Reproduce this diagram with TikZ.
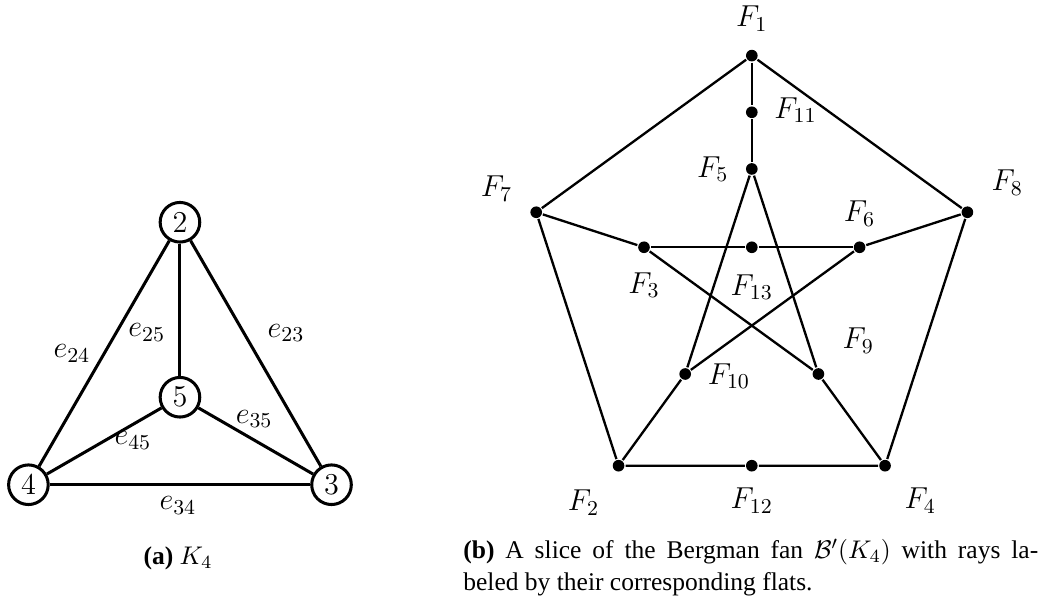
\documentclass[tikz,border=0pt]{standalone}
\usepackage{fix-cm}
\usepackage{amsmath,amssymb}
\usepackage{fontspec}
\setmainfont{Liberation Serif}
\usetikzlibrary{calc,positioning}

\tikzset{
    vertex/.style={circle, draw, line width=1.3pt, inner sep=0pt, minimum size=17pt, font=\fontsize{13}{15}\selectfont},
    ray/.style={circle, fill, inner sep=0pt, minimum size=5pt},
    flat/.style={font=\fontsize{13}{15}\selectfont},
    edgelab/.style={font=\fontsize{13}{15}\selectfont},
    capt/.style={font=\fontsize{10.95}{13.6}\selectfont}
}

\begin{document}
\begin{tikzpicture}
        \useasboundingbox (0,0) rectangle (15.75,9.07);

        % K_4 with the vertex 5 in the middle
        \begin{scope}[shift={(2.715,3.077)}, line width=1.3pt]
            \node[vertex] (v5) at (0,0) {$5$};
            \node[vertex] (v2) at (90:2.64) {$2$};
            \node[vertex] (v4) at (210:2.64) {$4$};
            \node[vertex] (v3) at (330:2.64) {$3$};

            \draw (v2) -- (v4);
            \draw (v2) -- (v3);
            \draw (v2) -- (v5);
            \draw (v4) -- (v3);
            \draw (v5) -- (v4);
            \draw (v5) -- (v3);

            \node[edgelab] (e24) at (-1.63,0.66) {$e_{24}$};
            \node[edgelab] (e25) at (-0.50,0.98) {$e_{25}$};
            \node[edgelab] (e23) at (1.60,0.97) {$e_{23}$};
            \node[edgelab] (e35) at (1.12,-0.33) {$e_{35}$};
            \node[edgelab] (e45) at (-0.71,-0.65) {$e_{45}$};
            \node[edgelab] (e34) at (-0.03,-1.63) {$e_{34}$};
        \end{scope}
        \node[capt, anchor=base] (capa) at (2.685,0.558) {\textbf{(a)} $K_4$};

        % Bergman fan slice
        \begin{scope}[shift={(11.342,4.811)}, line width=1pt]
            % outer pentagon
            \node[ray] (F1) at (90:3.42) {};
            \node[ray] (F8) at (18:3.42) {};
            \node[ray] (F4) at (-54:3.42) {};
            \node[ray] (F2) at (234:3.42) {};
            \node[ray] (F7) at (162:3.42) {};
            % inner star
            \node[ray] (F5) at (90:1.71) {};
            \node[ray] (F6) at (18:1.71) {};
            \node[ray] (F9) at (-54:1.71) {};
            \node[ray] (F10) at (234:1.71) {};
            \node[ray] (F3) at (162:1.71) {};
            % midpoints
            \node[ray] (F11) at ($(F1)!0.5!(F5)$) {};
            \node[ray] (F12) at ($(F2)!0.5!(F4)$) {};
            \node[ray] (F13) at ($(F3)!0.5!(F6)$) {};

            \draw (F7) -- (F1) -- (F8) -- (F4);
            \draw (F7) -- (F2) -- (F12) -- (F4);
            \draw (F1) -- (F11) -- (F5);
            \draw (F7) -- (F3);
            \draw (F8) -- (F6);
            \draw (F2) -- (F10);
            \draw (F4) -- (F9);

            \draw (F3) -- (F13) -- (F6);
            \draw (F5) -- (F10);
            \draw (F5) -- (F9);
            \draw (F3) -- (F9);
            \draw (F6) -- (F10);

            \foreach \f/\dx/\dy in {1/0/0.56, 2/-0.53/-0.56, 3/0/-0.57, 4/0.53/-0.53,
                5/-0.59/0, 6/0/0.51, 7/-0.60/0.36, 8/0.60/0.45, 9/0.60/0.50,
                10/0.66/-0.03, 11/0.66/0.03, 12/0/-0.53, 13/0/-0.60}
                \node[flat] (lF\f) at ($(F\f)+(\dx,\dy)$) {$F_{\f}$};
        \end{scope}
        \node[capt, anchor=north west, inner sep=0pt, text width=246.8pt, align=justify] (capb) at (6.983,0.94)
            {\textbf{(b)} A slice of the Bergman fan $\mathcal{B}'(K_4)$ with rays la-\linebreak beled by their corresponding flats.};
\end{tikzpicture}
\end{document}
